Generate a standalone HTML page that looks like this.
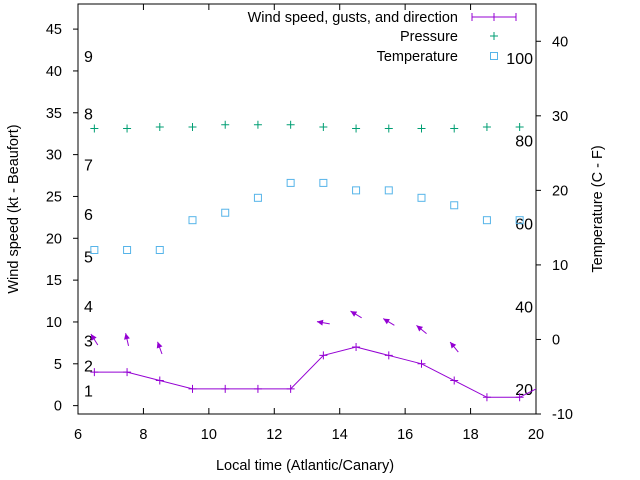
<!DOCTYPE html>
<html><head><meta charset="utf-8"><style>
body{margin:0;background:#fff}
svg{display:block;font-family:"Liberation Sans",sans-serif;font-size:14.5px}
</style></head><body>
<svg id="chart" width="640" height="480" viewBox="0 0 640 480" xmlns="http://www.w3.org/2000/svg"></svg>
<script>
const hours=[6.5,7.5,8.5,9.5,10.5,11.5,12.5,13.5,14.5,15.5,16.5,17.5,18.5,19.5,20.5];
const windKt=[4,4,3,2,2,2,2,6,7,6,5,3,1,1,3];
const pressureHours=[6.5,7.5,8.5,9.5,10.5,11.5,12.5,13.5,14.5,15.5,16.5,17.5,18.5,19.5];
const pressureVals=[28.3,28.3,28.5,28.5,28.8,28.8,28.8,28.5,28.3,28.3,28.3,28.3,28.5,28.5];
const tempHours=[6.5,7.5,8.5,9.5,10.5,11.5,12.5,13.5,14.5,15.5,16.5,17.5,18.5,19.5];
const tempC=[12,12,12,16,17,19,21,21,20,20,19,18,16,16];
const arrowHours=[6.5,7.5,8.5,13.5,14.5,15.5,16.5,17.5];
const arrowGust=[7.9,7.9,6.9,9.9,10.9,10,9.1,7];
const arrowHeading=[328,347,340,280,301,301,309,321];
const xTicks=[6,8,10,12,14,16,18,20];
const yTicks=[0,5,10,15,20,25,30,35,40,45];
const y2Ticks=[-10,0,10,20,30,40];
const beaufort=[1,2,3,4,5,6,7,8,9];
const beaufortKt=[1.8,4.8,7.8,11.9,17.8,22.9,28.8,34.9,41.8];
const fahrenheit=[20,40,60,80,100];

const L=78,R=536,T=4,B=414;
const X=h=>L+(h-6)*(R-L)/14;
const Y=v=>B-(v+1)*(B-T)/49;
const Y2=v=>B-(v+10)*(B-T)/55;
const svg=document.getElementById('chart');
const NS='http://www.w3.org/2000/svg';
function el(tag,attrs,parent){const e=document.createElementNS(NS,tag);for(const k in attrs)e.setAttribute(k,attrs[k]);(parent||svg).appendChild(e);return e;}
function txt(s,attrs){const e=el('text',attrs);e.textContent=s;return e;}

xTicks.forEach(t=>{
  const g=el('g',{});
  
  
  el('line',{x1:X(t),x2:X(t),y1:B,y2:B-6,stroke:'#000'},g);
  el('line',{x1:X(t),x2:X(t),y1:T,y2:T+6,stroke:'#000'},g);
  const s=txt(t,{x:X(t),y:B+25,'text-anchor':'middle'});g.appendChild(s);
});
yTicks.forEach(t=>{
  const g=el('g',{});
  
  
  el('line',{x1:L-5,x2:L,y1:Y(t),y2:Y(t),stroke:'#000'},g);
  const s=txt(t,{x:62,y:Y(t)+5,'text-anchor':'end'});g.appendChild(s);
});
y2Ticks.forEach(t=>{
  const g=el('g',{});
  
  
  el('line',{x1:R,x2:R+5,y1:Y2(t),y2:Y2(t),stroke:'#000'},g);
  const s=txt(t,{x:552,y:Y2(t)+5,'text-anchor':'start'});g.appendChild(s);
});
const border=el('rect',{x:L,y:T,width:R-L,height:B-T,fill:'none',stroke:'#000'});



beaufort.forEach((b,i)=>{const s=txt(b,{x:84,y:Y(beaufortKt[i])+6,'font-size':'16'});
  
  });
fahrenheit.forEach(f=>{const s=txt(f,{x:533,y:Y2((f-32)*5/9)+6,'text-anchor':'end','font-size':'16'});
  
  });

let t1=txt('Wind speed (kt - Beaufort)',{x:0,y:0,'text-anchor':'middle',transform:'translate(18,209) rotate(-90)'});

let t2=txt('Temperature (C - F)',{x:0,y:0,'text-anchor':'middle',transform:'translate(602,209) rotate(-90)'});

let t3=txt('Local time (Atlantic/Canary)',{x:305,y:470,'text-anchor':'middle'});


const defs=el('defs',{});const cp=el('clipPath',{id:'clip'},defs);el('rect',{x:L,y:T,width:R-L,height:B-T},cp);
const plot=el('g',{'clip-path':'url(#clip)'});

const wl=el('polyline',{points:hours.map((h,i)=>X(h)+','+Y(windKt[i])).join(' '),fill:'none',stroke:'#9400d3','stroke-width':1},plot);

hours.forEach((h,i)=>{const p=el('path',{d:`M${X(h)-4},${Y(windKt[i])}h8M${X(h)},${Y(windKt[i])-4}v8`,stroke:'#9400d3'},plot);
  });

arrowHours.forEach((h,i)=>{
  const a=arrowHeading[i]*Math.PI/180,dx=Math.sin(a),dy=-Math.cos(a),len=13;
  const cx=X(h),cy=Y(arrowGust[i]);
  const x1=cx-dx*len/2,y1=cy-dy*len/2,x2=cx+dx*len/2,y2=cy+dy*len/2;
  const px=-dy,py=dx;
  const g=el('g',{},plot);
  
  
  el('line',{x1,y1,x2,y2,stroke:'#9400d3'},g);
  el('polygon',{points:`${x2},${y2} ${x2-dx*6+px*3},${y2-dy*6+py*3} ${x2-dx*6-px*3},${y2-dy*6-py*3}`,fill:'#9400d3'},g);
});

pressureHours.forEach((h,i)=>{const x=X(h),y=Y2(pressureVals[i]);
  const p=el('path',{d:`M${x-4},${y}h8M${x},${y-4}v8`,stroke:'#009e73'},plot);
  });
tempHours.forEach((h,i)=>{const x=X(h),y=Y2(tempC[i]);
  const p=el('rect',{x:x-3.5,y:y-3.5,width:7,height:7,fill:'none',stroke:'#56b4e9'},plot);
  });

const lg=el('g',{});
let le=txt('Wind speed, gusts, and direction',{x:458,y:22,'text-anchor':'end'});lg.appendChild(le);
el('path',{d:'M472,17h44M472,13v8M516,13v8M494,13v8',stroke:'#9400d3'},lg);
le=txt('Pressure',{x:458,y:41,'text-anchor':'end'});lg.appendChild(le);
el('path',{d:'M490,36h8M494,32v8',stroke:'#009e73'},lg);
le=txt('Temperature',{x:458,y:61,'text-anchor':'end'});lg.appendChild(le);
el('rect',{x:490.5,y:52.5,width:7,height:7,fill:'none',stroke:'#56b4e9'},lg);
</script>
</body></html>
